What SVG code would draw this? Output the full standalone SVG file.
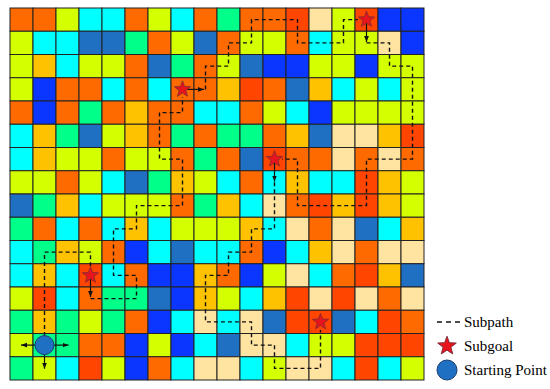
<svg xmlns="http://www.w3.org/2000/svg" xmlns:xlink="http://www.w3.org/1999/xlink" width="550" height="389" viewBox="0 0 550 389">
<style>
#grid rect{stroke:#222;stroke-width:1}
.O{fill:#FF6A00}.R{fill:#FF4500}.Y{fill:#D4FF00}.C{fill:#00FFFF}.S{fill:#1F6FC3}.G{fill:#00FF88}.D{fill:#FFC200}.U{fill:#0A36FF}.B{fill:#FFE3A0}
.path{fill:none;stroke:#111;stroke-width:1.4;stroke-dasharray:4 3}
.arr{fill:none;stroke:#111;stroke-width:1.2;marker-end:url(#ah)}
.star{fill:#E8141C;stroke:#7a2a3a;stroke-width:0.8}
.start{fill:#1F6FC3;stroke:#1B3F73;stroke-width:1}
text{font-family:"Liberation Serif","Times New Roman",serif;font-size:15px;fill:#000}
</style>
<defs>
<marker id="ah" viewBox="0 0 10 10" refX="10" refY="5" markerWidth="6" markerHeight="6" orient="auto" markerUnits="userSpaceOnUse"><path d="M0,1 L10,5 L0,9 Z" fill="#111"/></marker>
<polygon id="st" points="0,-8.5 2.1,-2.9 8.1,-2.6 3.4,1.1 5,6.9 0,3.6 -5,6.9 -3.4,1.1 -8.1,-2.6 -2.1,-2.9"/>
</defs>
<rect width="550" height="389" fill="#fff"/>
<g id="grid">
<g transform="translate(0,8)"><rect x="10" width="23" height="23.25" class="O"/><rect x="33" width="23" height="23.25" class="O"/><rect x="56" width="23" height="23.25" class="Y"/><rect x="79" width="23" height="23.25" class="C"/><rect x="102" width="23" height="23.25" class="C"/><rect x="125" width="23" height="23.25" class="O"/><rect x="148" width="23" height="23.25" class="Y"/><rect x="171" width="23" height="23.25" class="C"/><rect x="194" width="23" height="23.25" class="O"/><rect x="217" width="23" height="23.25" class="G"/><rect x="240" width="23" height="23.25" class="O"/><rect x="263" width="23" height="23.25" class="O"/><rect x="286" width="23" height="23.25" class="R"/><rect x="309" width="23" height="23.25" class="B"/><rect x="332" width="23" height="23.25" class="Y"/><rect x="355" width="23" height="23.25" class="R"/><rect x="378" width="23" height="23.25" class="U"/><rect x="401" width="23" height="23.25" class="U"/></g>
<g transform="translate(0,31.25)"><rect x="10" width="23" height="23.25" class="Y"/><rect x="33" width="23" height="23.25" class="C"/><rect x="56" width="23" height="23.25" class="C"/><rect x="79" width="23" height="23.25" class="S"/><rect x="102" width="23" height="23.25" class="S"/><rect x="125" width="23" height="23.25" class="G"/><rect x="148" width="23" height="23.25" class="O"/><rect x="171" width="23" height="23.25" class="Y"/><rect x="194" width="23" height="23.25" class="S"/><rect x="217" width="23" height="23.25" class="O"/><rect x="240" width="23" height="23.25" class="Y"/><rect x="263" width="23" height="23.25" class="Y"/><rect x="286" width="23" height="23.25" class="O"/><rect x="309" width="23" height="23.25" class="C"/><rect x="332" width="23" height="23.25" class="Y"/><rect x="355" width="23" height="23.25" class="Y"/><rect x="378" width="23" height="23.25" class="B"/><rect x="401" width="23" height="23.25" class="U"/></g>
<g transform="translate(0,54.5)"><rect x="10" width="23" height="23.25" class="Y"/><rect x="33" width="23" height="23.25" class="D"/><rect x="56" width="23" height="23.25" class="C"/><rect x="79" width="23" height="23.25" class="Y"/><rect x="102" width="23" height="23.25" class="Y"/><rect x="125" width="23" height="23.25" class="O"/><rect x="148" width="23" height="23.25" class="S"/><rect x="171" width="23" height="23.25" class="G"/><rect x="194" width="23" height="23.25" class="O"/><rect x="217" width="23" height="23.25" class="Y"/><rect x="240" width="23" height="23.25" class="S"/><rect x="263" width="23" height="23.25" class="U"/><rect x="286" width="23" height="23.25" class="U"/><rect x="309" width="23" height="23.25" class="Y"/><rect x="332" width="23" height="23.25" class="Y"/><rect x="355" width="23" height="23.25" class="U"/><rect x="378" width="23" height="23.25" class="Y"/><rect x="401" width="23" height="23.25" class="Y"/></g>
<g transform="translate(0,77.75)"><rect x="10" width="23" height="23.25" class="Y"/><rect x="33" width="23" height="23.25" class="U"/><rect x="56" width="23" height="23.25" class="O"/><rect x="79" width="23" height="23.25" class="O"/><rect x="102" width="23" height="23.25" class="C"/><rect x="125" width="23" height="23.25" class="O"/><rect x="148" width="23" height="23.25" class="C"/><rect x="171" width="23" height="23.25" class="O"/><rect x="194" width="23" height="23.25" class="O"/><rect x="217" width="23" height="23.25" class="D"/><rect x="240" width="23" height="23.25" class="R"/><rect x="263" width="23" height="23.25" class="O"/><rect x="286" width="23" height="23.25" class="S"/><rect x="309" width="23" height="23.25" class="D"/><rect x="332" width="23" height="23.25" class="C"/><rect x="355" width="23" height="23.25" class="Y"/><rect x="378" width="23" height="23.25" class="C"/><rect x="401" width="23" height="23.25" class="Y"/></g>
<g transform="translate(0,101)"><rect x="10" width="23" height="23.25" class="O"/><rect x="33" width="23" height="23.25" class="U"/><rect x="56" width="23" height="23.25" class="O"/><rect x="79" width="23" height="23.25" class="G"/><rect x="102" width="23" height="23.25" class="O"/><rect x="125" width="23" height="23.25" class="D"/><rect x="148" width="23" height="23.25" class="O"/><rect x="171" width="23" height="23.25" class="O"/><rect x="194" width="23" height="23.25" class="C"/><rect x="217" width="23" height="23.25" class="C"/><rect x="240" width="23" height="23.25" class="O"/><rect x="263" width="23" height="23.25" class="Y"/><rect x="286" width="23" height="23.25" class="C"/><rect x="309" width="23" height="23.25" class="U"/><rect x="332" width="23" height="23.25" class="Y"/><rect x="355" width="23" height="23.25" class="Y"/><rect x="378" width="23" height="23.25" class="Y"/><rect x="401" width="23" height="23.25" class="Y"/></g>
<g transform="translate(0,124.25)"><rect x="10" width="23" height="23.25" class="C"/><rect x="33" width="23" height="23.25" class="D"/><rect x="56" width="23" height="23.25" class="G"/><rect x="79" width="23" height="23.25" class="S"/><rect x="102" width="23" height="23.25" class="Y"/><rect x="125" width="23" height="23.25" class="D"/><rect x="148" width="23" height="23.25" class="O"/><rect x="171" width="23" height="23.25" class="G"/><rect x="194" width="23" height="23.25" class="O"/><rect x="217" width="23" height="23.25" class="G"/><rect x="240" width="23" height="23.25" class="G"/><rect x="263" width="23" height="23.25" class="O"/><rect x="286" width="23" height="23.25" class="D"/><rect x="309" width="23" height="23.25" class="S"/><rect x="332" width="23" height="23.25" class="B"/><rect x="355" width="23" height="23.25" class="B"/><rect x="378" width="23" height="23.25" class="D"/><rect x="401" width="23" height="23.25" class="R"/></g>
<g transform="translate(0,147.5)"><rect x="10" width="23" height="23.25" class="C"/><rect x="33" width="23" height="23.25" class="D"/><rect x="56" width="23" height="23.25" class="Y"/><rect x="79" width="23" height="23.25" class="Y"/><rect x="102" width="23" height="23.25" class="O"/><rect x="125" width="23" height="23.25" class="Y"/><rect x="148" width="23" height="23.25" class="Y"/><rect x="171" width="23" height="23.25" class="O"/><rect x="194" width="23" height="23.25" class="G"/><rect x="217" width="23" height="23.25" class="O"/><rect x="240" width="23" height="23.25" class="S"/><rect x="263" width="23" height="23.25" class="R"/><rect x="286" width="23" height="23.25" class="O"/><rect x="309" width="23" height="23.25" class="O"/><rect x="332" width="23" height="23.25" class="B"/><rect x="355" width="23" height="23.25" class="O"/><rect x="378" width="23" height="23.25" class="B"/><rect x="401" width="23" height="23.25" class="O"/></g>
<g transform="translate(0,170.75)"><rect x="10" width="23" height="23.25" class="Y"/><rect x="33" width="23" height="23.25" class="Y"/><rect x="56" width="23" height="23.25" class="O"/><rect x="79" width="23" height="23.25" class="Y"/><rect x="102" width="23" height="23.25" class="C"/><rect x="125" width="23" height="23.25" class="S"/><rect x="148" width="23" height="23.25" class="G"/><rect x="171" width="23" height="23.25" class="D"/><rect x="194" width="23" height="23.25" class="Y"/><rect x="217" width="23" height="23.25" class="C"/><rect x="240" width="23" height="23.25" class="O"/><rect x="263" width="23" height="23.25" class="C"/><rect x="286" width="23" height="23.25" class="D"/><rect x="309" width="23" height="23.25" class="C"/><rect x="332" width="23" height="23.25" class="C"/><rect x="355" width="23" height="23.25" class="R"/><rect x="378" width="23" height="23.25" class="D"/><rect x="401" width="23" height="23.25" class="Y"/></g>
<g transform="translate(0,194)"><rect x="10" width="23" height="23.25" class="S"/><rect x="33" width="23" height="23.25" class="G"/><rect x="56" width="23" height="23.25" class="D"/><rect x="79" width="23" height="23.25" class="C"/><rect x="102" width="23" height="23.25" class="Y"/><rect x="125" width="23" height="23.25" class="Y"/><rect x="148" width="23" height="23.25" class="Y"/><rect x="171" width="23" height="23.25" class="O"/><rect x="194" width="23" height="23.25" class="G"/><rect x="217" width="23" height="23.25" class="D"/><rect x="240" width="23" height="23.25" class="C"/><rect x="263" width="23" height="23.25" class="B"/><rect x="286" width="23" height="23.25" class="O"/><rect x="309" width="23" height="23.25" class="R"/><rect x="332" width="23" height="23.25" class="D"/><rect x="355" width="23" height="23.25" class="R"/><rect x="378" width="23" height="23.25" class="D"/><rect x="401" width="23" height="23.25" class="Y"/></g>
<g transform="translate(0,217.25)"><rect x="10" width="23" height="23.25" class="G"/><rect x="33" width="23" height="23.25" class="O"/><rect x="56" width="23" height="23.25" class="C"/><rect x="79" width="23" height="23.25" class="O"/><rect x="102" width="23" height="23.25" class="C"/><rect x="125" width="23" height="23.25" class="D"/><rect x="148" width="23" height="23.25" class="C"/><rect x="171" width="23" height="23.25" class="Y"/><rect x="194" width="23" height="23.25" class="Y"/><rect x="217" width="23" height="23.25" class="Y"/><rect x="240" width="23" height="23.25" class="D"/><rect x="263" width="23" height="23.25" class="C"/><rect x="286" width="23" height="23.25" class="B"/><rect x="309" width="23" height="23.25" class="O"/><rect x="332" width="23" height="23.25" class="B"/><rect x="355" width="23" height="23.25" class="S"/><rect x="378" width="23" height="23.25" class="C"/><rect x="401" width="23" height="23.25" class="D"/></g>
<g transform="translate(0,240.5)"><rect x="10" width="23" height="23.25" class="C"/><rect x="33" width="23" height="23.25" class="G"/><rect x="56" width="23" height="23.25" class="D"/><rect x="79" width="23" height="23.25" class="Y"/><rect x="102" width="23" height="23.25" class="O"/><rect x="125" width="23" height="23.25" class="U"/><rect x="148" width="23" height="23.25" class="C"/><rect x="171" width="23" height="23.25" class="S"/><rect x="194" width="23" height="23.25" class="C"/><rect x="217" width="23" height="23.25" class="C"/><rect x="240" width="23" height="23.25" class="O"/><rect x="263" width="23" height="23.25" class="U"/><rect x="286" width="23" height="23.25" class="C"/><rect x="309" width="23" height="23.25" class="D"/><rect x="332" width="23" height="23.25" class="B"/><rect x="355" width="23" height="23.25" class="O"/><rect x="378" width="23" height="23.25" class="B"/><rect x="401" width="23" height="23.25" class="B"/></g>
<g transform="translate(0,263.75)"><rect x="10" width="23" height="23.25" class="C"/><rect x="33" width="23" height="23.25" class="D"/><rect x="56" width="23" height="23.25" class="C"/><rect x="79" width="23" height="23.25" class="R"/><rect x="102" width="23" height="23.25" class="C"/><rect x="125" width="23" height="23.25" class="O"/><rect x="148" width="23" height="23.25" class="U"/><rect x="171" width="23" height="23.25" class="U"/><rect x="194" width="23" height="23.25" class="D"/><rect x="217" width="23" height="23.25" class="O"/><rect x="240" width="23" height="23.25" class="U"/><rect x="263" width="23" height="23.25" class="Y"/><rect x="286" width="23" height="23.25" class="B"/><rect x="309" width="23" height="23.25" class="C"/><rect x="332" width="23" height="23.25" class="O"/><rect x="355" width="23" height="23.25" class="R"/><rect x="378" width="23" height="23.25" class="D"/><rect x="401" width="23" height="23.25" class="S"/></g>
<g transform="translate(0,287)"><rect x="10" width="23" height="23.25" class="Y"/><rect x="33" width="23" height="23.25" class="R"/><rect x="56" width="23" height="23.25" class="C"/><rect x="79" width="23" height="23.25" class="O"/><rect x="102" width="23" height="23.25" class="G"/><rect x="125" width="23" height="23.25" class="G"/><rect x="148" width="23" height="23.25" class="S"/><rect x="171" width="23" height="23.25" class="U"/><rect x="194" width="23" height="23.25" class="D"/><rect x="217" width="23" height="23.25" class="Y"/><rect x="240" width="23" height="23.25" class="C"/><rect x="263" width="23" height="23.25" class="D"/><rect x="286" width="23" height="23.25" class="R"/><rect x="309" width="23" height="23.25" class="B"/><rect x="332" width="23" height="23.25" class="R"/><rect x="355" width="23" height="23.25" class="B"/><rect x="378" width="23" height="23.25" class="O"/><rect x="401" width="23" height="23.25" class="B"/></g>
<g transform="translate(0,310.25)"><rect x="10" width="23" height="23.25" class="G"/><rect x="33" width="23" height="23.25" class="D"/><rect x="56" width="23" height="23.25" class="G"/><rect x="79" width="23" height="23.25" class="Y"/><rect x="102" width="23" height="23.25" class="G"/><rect x="125" width="23" height="23.25" class="O"/><rect x="148" width="23" height="23.25" class="U"/><rect x="171" width="23" height="23.25" class="C"/><rect x="194" width="23" height="23.25" class="B"/><rect x="217" width="23" height="23.25" class="C"/><rect x="240" width="23" height="23.25" class="B"/><rect x="263" width="23" height="23.25" class="S"/><rect x="286" width="23" height="23.25" class="R"/><rect x="309" width="23" height="23.25" class="R"/><rect x="332" width="23" height="23.25" class="S"/><rect x="355" width="23" height="23.25" class="C"/><rect x="378" width="23" height="23.25" class="R"/><rect x="401" width="23" height="23.25" class="O"/></g>
<g transform="translate(0,333.5)"><rect x="10" width="23" height="23.25" class="Y"/><rect x="33" width="23" height="23.25" class="G"/><rect x="56" width="23" height="23.25" class="G"/><rect x="79" width="23" height="23.25" class="O"/><rect x="102" width="23" height="23.25" class="O"/><rect x="125" width="23" height="23.25" class="U"/><rect x="148" width="23" height="23.25" class="Y"/><rect x="171" width="23" height="23.25" class="U"/><rect x="194" width="23" height="23.25" class="C"/><rect x="217" width="23" height="23.25" class="S"/><rect x="240" width="23" height="23.25" class="B"/><rect x="263" width="23" height="23.25" class="B"/><rect x="286" width="23" height="23.25" class="C"/><rect x="309" width="23" height="23.25" class="Y"/><rect x="332" width="23" height="23.25" class="Y"/><rect x="355" width="23" height="23.25" class="R"/><rect x="378" width="23" height="23.25" class="R"/><rect x="401" width="23" height="23.25" class="R"/></g>
<g transform="translate(0,356.75)"><rect x="10" width="23" height="23.25" class="G"/><rect x="33" width="23" height="23.25" class="Y"/><rect x="56" width="23" height="23.25" class="C"/><rect x="79" width="23" height="23.25" class="R"/><rect x="102" width="23" height="23.25" class="Y"/><rect x="125" width="23" height="23.25" class="U"/><rect x="148" width="23" height="23.25" class="O"/><rect x="171" width="23" height="23.25" class="C"/><rect x="194" width="23" height="23.25" class="B"/><rect x="217" width="23" height="23.25" class="B"/><rect x="240" width="23" height="23.25" class="C"/><rect x="263" width="23" height="23.25" class="Y"/><rect x="286" width="23" height="23.25" class="B"/><rect x="309" width="23" height="23.25" class="B"/><rect x="332" width="23" height="23.25" class="C"/><rect x="355" width="23" height="23.25" class="R"/><rect x="378" width="23" height="23.25" class="C"/><rect x="401" width="23" height="23.25" class="Y"/></g>
</g>
<g id="connectors">
<path class="path" d="M44.5,336 V252.1 H90.5 V268"/>
<path class="path" d="M90.5,298.6 H136.5 V275.4 H113.5 V228.9 H136.5 V205.6 H182.5 V159.1 H159.5 V112.6 H182.5 V97"/>
<path class="path" d="M205.5,89.4 V66.1 H228.5 V42.85 H251.5 V19.6 H297.5 V42.85 H343.5 V19.6 H358"/>
<path class="path" d="M366.5,42.85 H389.5 V66.1 H412.5 V159.1 H366.5 V205.6 H297.5 V159.1 H282"/>
<path class="path" d="M274.5,182.35 V228.9 H251.5 V252.1 H228.5 V275.4 H205.5 V321.9 H251.5 V345.1 H274.5 V368.4 H320.5 V330"/>
<line class="arr" x1="90.5" y1="275.4" x2="90.5" y2="297"/>
<line class="arr" x1="182.5" y1="89.4" x2="204" y2="89.4"/>
<line class="arr" x1="366.5" y1="19.6" x2="366.5" y2="42"/>
<line class="arr" x1="274.5" y1="159.1" x2="274.5" y2="181.5"/>
<line class="arr" x1="35" y1="345.1" x2="21" y2="345.1"/>
<line class="arr" x1="54" y1="345.1" x2="68.5" y2="345.1"/>
<line class="arr" x1="44.5" y1="354.6" x2="44.5" y2="368.8"/>
</g>
<g id="start"><circle class="start" cx="44.5" cy="345.1" r="9.5"/></g>
<g id="subgoal1"><use href="#st" xlink:href="#st" class="star" x="90.5" y="275.4"/></g>
<g id="subgoal2"><use href="#st" xlink:href="#st" class="star" x="182.5" y="89.4"/></g>
<g id="subgoal3"><use href="#st" xlink:href="#st" class="star" x="366.5" y="19.6"/></g>
<g id="subgoal4"><use href="#st" xlink:href="#st" class="star" x="274.5" y="159.1"/></g>
<g id="subgoal5"><use href="#st" xlink:href="#st" class="star" x="320.5" y="321.9"/></g>
<g id="legend">
<line x1="437" y1="322" x2="462" y2="322" stroke="#111" stroke-width="1.4" stroke-dasharray="5 4"/>
<text x="464" y="327">Subpath</text>
<use href="#st" xlink:href="#st" class="star" transform="translate(447,346) scale(1.15)"/>
<text x="464" y="351">Subgoal</text>
<circle class="start" cx="447" cy="370" r="10"/>
<text x="464" y="375">Starting Point</text>
</g>
</svg>
